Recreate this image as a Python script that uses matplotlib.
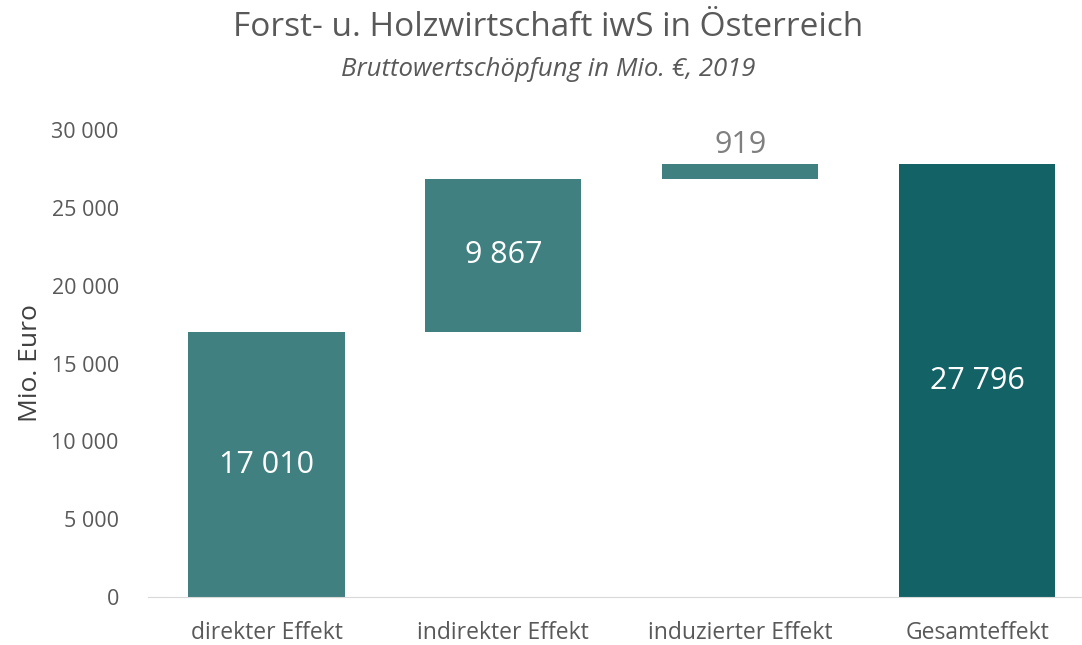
import matplotlib.pyplot as plt
import numpy as np

categories = ["direkter Effekt", "indirekter Effekt", "induzierter Effekt", "Gesamteffekt"]
values = [17010, 9867, 919, 27796]
is_total = [False, False, False, True]
yticks = [0, 5000, 10000, 15000, 20000, 25000, 30000]

plt.rcParams['font.family'] = ['Open Sans', 'DejaVu Sans']

bottoms = []
run = 0
for v, t in zip(values, is_total):
    if t:
        bottoms.append(0)
    else:
        bottoms.append(run)
        run += v

colors = ['#136266' if t else '#408080' for t in is_total]

fig = plt.figure(figsize=(10.82, 6.45), dpi=100)
ax = fig.add_axes([148/1082, 48/645, (1082-148)/1082, (597-130)/645])
x = np.arange(len(categories))
ax.bar(x, values, bottom=bottoms, width=0.66, color=colors)

ax.set_xlim(-0.5, 3.443)
ax.set_ylim(0, 30000)
ax.set_yticks(yticks)
ax.set_yticklabels([f"{v:,}".replace(",", " ") for v in yticks], fontsize=15.5, color='#595959')
ax.set_xticks(x)
ax.set_xticklabels(categories, fontsize=16.5, color='#595959')
ax.tick_params(axis='both', length=0)
ax.tick_params(axis='y', pad=21)
ax.tick_params(axis='x', pad=17)
for s in ['top', 'right', 'left']:
    ax.spines[s].set_visible(False)
ax.spines['bottom'].set_color('#D9D9D9')
ax.set_ylabel("Mio. Euro", fontsize=19, color='#404040', labelpad=6)

for xi, v, b in zip(x, values, bottoms):
    lab = f"{v:,}".replace(",", " ")
    if v > 3000:
        ax.text(xi, b + v/2, lab, ha='center', va='center', color='white', fontsize=22)
    else:
        ax.text(xi, b + v + 250, lab, ha='center', va='bottom', color='#7F7F7F', fontsize=22)

fig.text(548/1082, 1 - 27/645, "Forst- u. Holzwirtschaft iwS in Österreich", ha='center', va='center',
         fontsize=24, color='#595959')
fig.text(548/1082, 1 - 70/645, "Bruttowertschöpfung in Mio. €, 2019", ha='center', va='center',
         fontsize=18.5, color='#595959', style='italic')

fig.savefig("out.png", dpi=100)
